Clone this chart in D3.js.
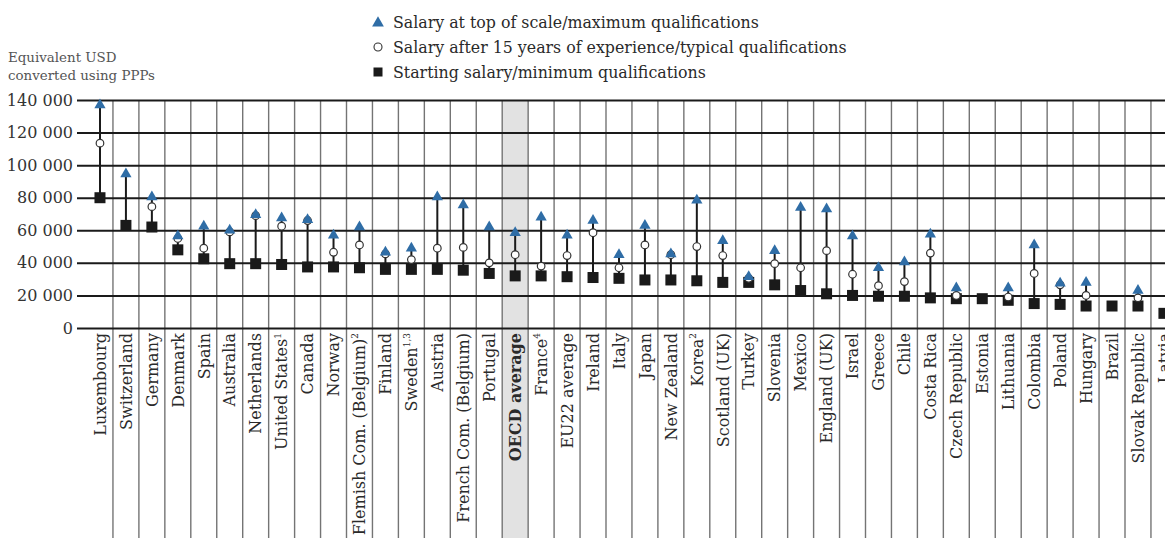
<!DOCTYPE html>
<html>
<head>
<meta charset="utf-8">
<script src="https://cdn.jsdelivr.net/npm/d3@7"></script>
<style>
  html, body { margin: 0; padding: 0; background: #fff; }
  svg { display: block; }
  text { font-family: "DejaVu Serif", serif; }
</style>
</head>
<body>
<script>
// ---- Data ----
const categories = [
  "Luxembourg", "Switzerland", "Germany", "Denmark", "Spain", "Australia",
  "Netherlands", "United States¹", "Canada", "Norway", "Flemish Com. (Belgium)²",
  "Finland", "Sweden¹,³", "Austria", "French Com. (Belgium)", "Portugal",
  "OECD average", "France⁴", "EU22 average", "Ireland", "Italy", "Japan",
  "New Zealand", "Korea²", "Scotland (UK)", "Turkey", "Slovenia", "Mexico",
  "England (UK)", "Israel", "Greece", "Chile", "Costa Rica", "Czech Republic",
  "Estonia", "Lithuania", "Colombia", "Poland", "Hungary", "Brazil",
  "Slovak Republic", "Latvia"
];
const topSalary = [
  137000, 94500, 80500, 56500, 62500, 60000,
  69500, 67500, 66500, 57000, 62000,
  46500, 49000, 80500, 75500, 62000,
  58500, 68000, 57000, 66000, 45000, 63000,
  45500, 78500, 53500, 31500, 47500, 74000,
  73000, 56500, 37000, 40500, 57500, 24500,
  null, 24500, 51000, 27500, 28000, null,
  23000, null
];
const midSalary = [
  113500, null, 74500, 55000, 49000, 59000,
  69000, 62500, 66000, 46500, 51000,
  45500, 42000, 49000, 49500, 40000,
  45000, 38000, 44500, 58500, 37000, 51000,
  45000, 50000, 44500, 30500, 39500, 37000,
  47500, 33000, 26000, 28500, 46000, 20000,
  null, 19000, 33500, 26500, 20000, null,
  18500, null
];
const startSalary = [
  80000, 63000, 62000, 48000, 42500, 39500,
  39500, 39000, 37500, 37500, 37000,
  36000, 36000, 36000, 35500, 33500,
  32000, 32000, 31500, 31000, 30500, 29500,
  29500, 29000, 28000, 28000, 26500, 23000,
  21000, 20000, 19500, 19500, 18500, 18000,
  18000, 17000, 15000, 14500, 13500, 13500,
  13500, 9000
];
const highlighted = ["OECD average"];
const boldLabels = ["OECD average"];
const yTicks = [0, 20000, 40000, 60000, 80000, 100000, 120000, 140000];
const yTickLabels = ["0", "20 000", "40 000", "60 000", "80 000", "100 000", "120 000", "140 000"];
const yTitle = ["Equivalent USD", "converted using PPPs"];
const legendLabels = [
  "Salary at top of scale/maximum qualifications",
  "Salary after 15 years of experience/typical qualifications",
  "Starting salary/minimum qualifications"
];

// ---- Layout ----
const W = 1165, H = 538;
const blue = "#2f6da6";
const svg = d3.select("body").append("svg").attr("width", W).attr("height", H);

const step = 25.95;
const x = d3.scaleBand().domain(categories)
  .range([87, 87 + categories.length * step]).paddingInner(0).paddingOuter(0);
const y = d3.scaleLinear().domain([0, 140000]).range([328, 100]);
const cx = c => x(c) + x.bandwidth() / 2;

// highlighted column band
svg.append("g").selectAll("rect").data(highlighted).join("rect")
  .attr("x", d => x(d)).attr("y", y(140000))
  .attr("width", x.bandwidth()).attr("height", H - y(140000))
  .attr("fill", "#e2e2e2");

// vertical separators
svg.append("g").selectAll("line").data(categories).join("line")
  .attr("x1", d => x(d) + x.bandwidth()).attr("x2", d => x(d) + x.bandwidth())
  .attr("y1", y(140000)).attr("y2", H)
  .attr("stroke", "#747474").attr("stroke-width", 1.4);

// horizontal gridlines + y tick labels via axis
const yAxis = d3.axisLeft(y).tickValues(yTicks)
  .tickFormat((d, i) => yTickLabels[i])
  .tickSize(-(W - 77)).tickPadding(4);
const gy = svg.append("g").attr("transform", "translate(77,0)").call(yAxis);
gy.select(".domain").remove();
gy.selectAll(".tick line").attr("stroke", "#1a1a1a").attr("stroke-width", 2);
gy.selectAll(".tick text")
  .attr("font-family", "DejaVu Serif").attr("font-size", 16)
  .attr("fill", "#333");

// y title
svg.append("g").selectAll("text").data(yTitle).join("text")
  .attr("x", 8).attr("y", (d, i) => 62 + i * 18)
  .attr("font-size", 13.4).attr("fill", "#555")
  .text(d => d);

// connectors
const idx = d3.range(categories.length);
svg.append("g").selectAll("line").data(idx.filter(i => topSalary[i] != null)).join("line")
  .attr("x1", i => cx(categories[i])).attr("x2", i => cx(categories[i]))
  .attr("y1", i => y(startSalary[i])).attr("y2", i => y(topSalary[i]))
  .attr("stroke", "#1a1a1a").attr("stroke-width", 2);

// squares (starting salary)
const sq = 11;
svg.append("g").selectAll("rect").data(idx.filter(i => startSalary[i] != null)).join("rect")
  .attr("x", i => cx(categories[i]) - sq / 2).attr("y", i => y(startSalary[i]) - sq / 2)
  .attr("width", sq).attr("height", sq).attr("fill", "#1a1a1a");

// circles (15 years)
svg.append("g").selectAll("circle").data(idx.filter(i => midSalary[i] != null)).join("circle")
  .attr("cx", i => cx(categories[i])).attr("cy", i => y(midSalary[i]))
  .attr("r", 3.8).attr("fill", "#fff").attr("stroke", "#333").attr("stroke-width", 1.2);

// triangles (top of scale)
const tri = d3.symbol().type(d3.symbolTriangle).size(55);
svg.append("g").selectAll("path").data(idx.filter(i => topSalary[i] != null)).join("path")
  .attr("d", tri)
  .attr("transform", i => `translate(${cx(categories[i])},${y(topSalary[i])})`)
  .attr("fill", blue);

// category labels
const supMap = { "¹": "1", "²": "2", "³": "3", "⁴": "4", ",": "," };
const labels = svg.append("g").selectAll("text").data(categories).join("text")
  .attr("transform", d => `translate(${cx(d)},333) rotate(-90)`)
  .attr("text-anchor", "end").attr("dy", "0.36em")
  .attr("font-size", 16).attr("fill", "#2a2a2a")
  .attr("font-weight", d => boldLabels.includes(d) ? "bold" : "normal");
labels.each(function (d) {
  const m = d.match(/^(.*?)([¹²³⁴,]+)$/);
  const t = d3.select(this);
  if (m) {
    t.append("tspan").text(m[1]);
    t.append("tspan").attr("font-size", 9).attr("dy", "-0.75em")
      .text(m[2].split("").map(ch => supMap[ch]).join(""));
  } else {
    t.text(d);
  }
});

// legend
const lg = svg.append("g");
const legendY = [22, 47, 72];
lg.selectAll("text").data(legendLabels).join("text")
  .attr("x", 393).attr("y", (d, i) => legendY[i]).attr("dy", "0.36em")
  .attr("font-size", 15.8).attr("fill", "#2a2a2a").text(d => d);
lg.append("path").attr("d", d3.symbol().type(d3.symbolTriangle).size(60))
  .attr("transform", `translate(378,${legendY[0] + 1})`).attr("fill", blue);
lg.append("circle").attr("cx", 378).attr("cy", legendY[1]).attr("r", 4)
  .attr("fill", "#fff").attr("stroke", "#333").attr("stroke-width", 1.1);
lg.append("rect").attr("x", 373.5).attr("y", legendY[2] - 4.5).attr("width", 9).attr("height", 9)
  .attr("fill", "#1a1a1a");
</script>
</body>
</html>
